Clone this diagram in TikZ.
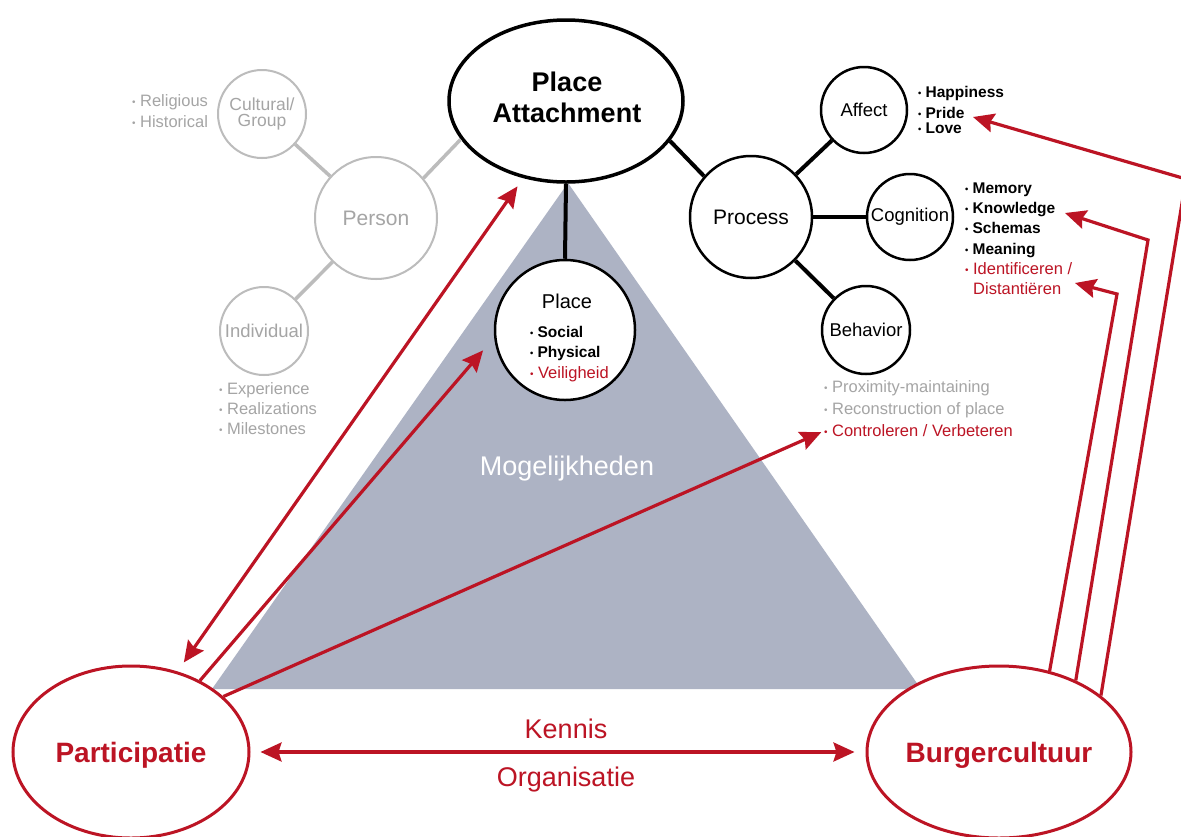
\documentclass[tikz,border=0pt]{standalone}
\usepackage{fontspec}
\setmainfont{Liberation Sans}
\usepackage{graphicx}
\usetikzlibrary{shapes.geometric,arrows.meta}
\definecolor{myred}{RGB}{188,20,36}
\definecolor{tri}{RGB}{173,179,196}
\definecolor{gtext}{RGB}{165,165,165}
\definecolor{gline}{RGB}{188,188,188}
\newcommand\bul{\makebox[0.48em][l]{\raisebox{0.1em}{\scalebox{0.6}{•}}}}
\begin{document}
\begin{tikzpicture}[x=1pt,y=-1pt,
 bcirc/.style={circle,draw=black,line width=2.5pt,fill=white,inner sep=0pt},
 gcirc/.style={circle,draw=gline,line width=2pt,fill=white,inner sep=0pt,text=gtext},
 redell/.style={ellipse,draw=myred,line width=3pt,fill=white,inner sep=0pt,text=myred,text depth=0pt,font=\fontsize{28}{30}\selectfont\bfseries},
 bconn/.style={line width=4pt,black},
 gconn/.style={line width=3.5pt,gline},
 redarr/.style={draw=myred,line width=3.2pt,-{Stealth[length=21pt,width=19pt,inset=3pt]}},
 redboth/.style={draw=myred,line width=3.2pt,{Stealth[length=21pt,width=19pt,inset=3pt]}-{Stealth[length=21pt,width=19pt,inset=3pt]}},
 blist/.style={anchor=base west,inner sep=0pt,font=\fontsize{15.5}{18}\selectfont\bfseries},
 glist/.style={anchor=base west,inner sep=0pt,text=gtext,font=\fontsize{16.5}{18}\selectfont},
 rlist/.style={anchor=base west,inner sep=0pt,text=myred,font=\fontsize{16.5}{18}\selectfont},
]
\useasboundingbox (0,0) rectangle (1181,836);
\fill[white] (0,0) rectangle (1181,836);

% triangle
\fill[tri] (568,183) -- (921,689) -- (212,689) -- cycle;

% main nodes
\node[ellipse,draw=black,line width=3.5pt,fill=white,minimum width=234pt,minimum height=162pt,inner sep=0pt] (pa) at (566,101) {};
\node[align=center,inner sep=0pt,text depth=0pt,font=\fontsize{27}{31}\selectfont\bfseries] (patext) at (567,97.5) {Place\\Attachment};

\node[bcirc,minimum size=140pt] (place) at (565,330) {};
\node[anchor=base,inner sep=0pt,font=\fontsize{20}{22}\selectfont] (placet) at (567,308) {Place};
\node[blist] (social) at (530,337.6) {\bul Social};
\node[blist] (physical) at (530,357.6) {\bul Physical};
\node[rlist] (veilig) at (530,378.9) {\bul Veiligheid};

\node[bcirc,minimum size=122pt,font=\fontsize{21}{23}\selectfont] (process) at (751,217) {Process};
\node[bcirc,minimum size=86pt,font=\fontsize{18.5}{20}\selectfont] (affect) at (864,110) {Affect};
\node[bcirc,minimum size=86pt,font=\fontsize{18.5}{20}\selectfont] (cognition) at (910,217) {Cognition};
\node[bcirc,minimum size=88pt,font=\fontsize{18.5}{20}\selectfont] (behavior) at (866,330) {Behavior};

\node[gcirc,minimum size=122pt,font=\fontsize{21}{23}\selectfont] (person) at (376,218) {Person};
\node[gcirc,minimum size=88pt,align=center,font=\fontsize{17.5}{15.5}\selectfont] (cultural) at (262,114) {Cultural/\\Group};
\node[gcirc,minimum size=88pt,font=\fontsize{18.5}{20}\selectfont] (individual) at (264,331) {Individual};

\node[redell,minimum width=236pt,minimum height=172pt] (part) at (131,752) {Participatie};
\node[redell,minimum width=238pt,minimum height=172pt] (burg) at (999,752) {Burgercultuur};

% lists
\node[blist] (happy) at (918,97.6) {\bul Happiness};
\node[blist] (pride) at (918,118.6) {\bul Pride};
\node[blist] (love) at (918,133.6) {\bul Love};

\node[blist] (memory) at (965,193.6) {\bul Memory};
\node[blist] (knowledge) at (965,213.6) {\bul Knowledge};
\node[blist] (schemas) at (965,233.6) {\bul Schemas};
\node[blist] (meaning) at (965,254.6) {\bul Meaning};
\node[rlist] (ident) at (965,274.9) {\bul Identificeren /};
\node[rlist] (distant) at (973,294.9) {Distantiëren};

\node[glist] (prox) at (824,392.9) {\bul Proximity-maintaining};
\node[glist] (recon) at (824,414.9) {\bul Reconstruction of place};
\node[rlist] (ctrl) at (824,436.9) {\bul Controleren / Verbeteren};

\node[glist] (relig) at (132,106.9) {\bul Religious};
\node[glist] (hist) at (132,127.9) {\bul Historical};

\node[glist] (exper) at (219,394.9) {\bul Experience};
\node[glist] (realiz) at (219,414.9) {\bul Realizations};
\node[glist] (milest) at (219,434.9) {\bul Milestones};

\node[anchor=base,inner sep=0pt,text=white,font=\fontsize{27}{30}\selectfont] (mogel) at (567,475) {Mogelijkheden};
\node[anchor=base,inner sep=0pt,text=myred,font=\fontsize{27}{30}\selectfont] (kennis) at (566,738) {Kennis};
\node[anchor=base,inner sep=0pt,text=myred,font=\fontsize{27}{30}\selectfont] (organ) at (566,786) {Organisatie};

% black connectors
\draw[bconn] (pa.south) -- (place.north);
\draw[bconn] (process.139) -- (pa.339);
\draw[bconn] (process) -- (affect);
\draw[bconn] (process) -- (cognition);
\draw[bconn] (process) -- (behavior);

% gray connectors
\draw[gconn] (person.40) -- (pa.200);
\draw[gconn] (person) -- (cultural);
\draw[gconn] (person) -- (individual);

% red arrows
\draw[redboth,shorten <=11pt,shorten >=10pt] (part.60) -- (pa.241);
\draw[redarr,shorten >=17pt] (part.46) -- (place.186);
\draw[redarr,shorten >=3pt] (part.31) -- (ctrl.west);
\draw[redboth,shorten <=10pt,shorten >=11pt] (part.east) -- (burg.west);

\coordinate (c1) at (1117,294);
\coordinate (t1) at (1075,283);
\coordinate (c2) at (1148,240);
\coordinate (t2) at (1065,213);
\coordinate (c3) at (1186,179);
\coordinate (t3) at (973,117);
\draw[redarr] (burg.58.5) -- (c1) -- (t1);
\draw[redarr] (burg.43.6) -- (c2) -- (t2);
\draw[redarr] (burg.29.5) -- (c3) -- (t3);
\end{tikzpicture}
\end{document}
